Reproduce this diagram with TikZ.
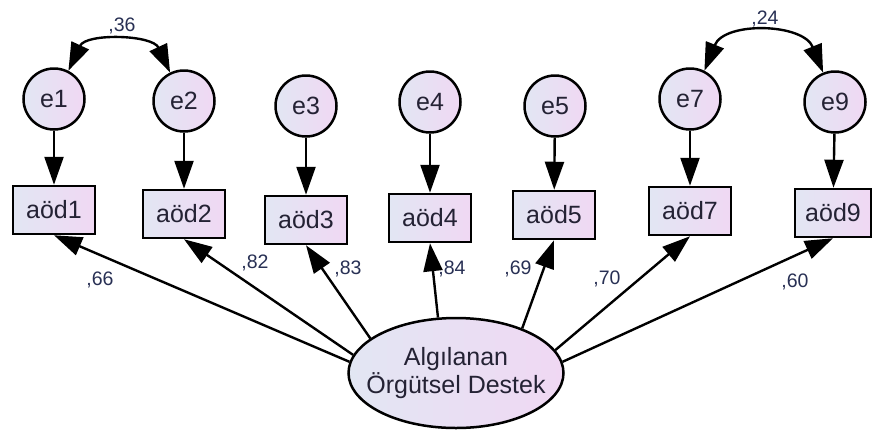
\documentclass[tikz,border=0pt]{standalone}
\usepackage{fontspec}
\setmainfont{Liberation Sans}
\usetikzlibrary{arrows.meta,shapes.geometric}
\definecolor{fillL}{RGB}{226,230,243}
\definecolor{fillR}{RGB}{240,216,243}
\definecolor{txt}{RGB}{36,34,52}
\definecolor{lbl}{RGB}{40,48,84}
\tikzset{
  base/.style={draw=black, line width=2.5pt, left color=fillL, right color=fillR,
    text=txt, font=\fontsize{25}{28}\selectfont, inner sep=0pt},
  errc/.style={base, circle, minimum size=61pt},
  obs/.style={base, rectangle, minimum width=82pt, minimum height=48pt},
  lat/.style={base, ellipse, minimum width=215pt, minimum height=110pt, align=center,
    inner xsep=-18pt},
  arr/.style={line width=2.4pt, -{Triangle[length=28pt,width=19pt]}},
  cov/.style={line width=2.4pt, {Triangle[length=28pt,width=19pt]}-{Triangle[length=28pt,width=19pt]}},
  coef/.style={text=lbl, font=\fontsize{19.5}{22}\selectfont, inner sep=0pt}
}
\begin{document}
\begin{tikzpicture}[x=1pt,y=-1pt]
\useasboundingbox (0,0) rectangle (872,432);

% error terms
\node[errc] (e1) at (54,99)  {e1};
\node[errc] (e2) at (184,101) {e2};
\node[errc] (e3) at (306,106) {e3};
\node[errc] (e4) at (430,102) {e4};
\node[errc] (e5) at (555,106) {e5};
\node[errc] (e7) at (690,99)  {e7};
\node[errc] (e9) at (835,102) {e9};

% observed items
\node[obs] (b1) at (54,210)  {aöd1};
\node[obs] (b2) at (184,214) {aöd2};
\node[obs] (b3) at (306,220) {aöd3};
\node[obs] (b4) at (430,218) {aöd4};
\node[obs] (b5) at (554,215) {aöd5};
\node[obs] (b7) at (690,211) {aöd7};
\node[obs, minimum width=76pt] (b9) at (833,213) {aöd9};

% latent factor
\node[lat] (f) at (456,373) {Algılanan\\Örgütsel Destek};

% error paths
\foreach \i in {1,2,3,4,5,7,9} \draw[arr] (e\i) -- (b\i);

% loadings
\draw[arr] (f.174)   -- (b1.south);
\draw[arr] (f.170)   -- (b2.south);
\draw[arr] (f.158.5) -- (b3.south);
\draw[arr] (f.108.7) -- (b4.south);
\draw[arr] (f.34.9)  -- (b5.south);
\draw[arr] (f.13.9)  -- (b7.south);
\draw[arr] (f.6.9)   -- (b9.south);

% covariances
\draw[cov] (e1.63) to[out=65,in=115,looseness=1.05] (e2.116);
\draw[cov] (e7.63) to[out=68,in=112,looseness=1.15] (e9.112);

% estimates
\node[coef] (c12) at (122,26)  {,36};
\node[coef] (c79) at (765,19)  {,24};
\node[coef] (l1)  at (100,280) {,66};
\node[coef] (l2)  at (255,263) {,82};
\node[coef] (l3)  at (348,269) {,83};
\node[coef] (l4)  at (452,269) {,84};
\node[coef] (l5)  at (518,269) {,69};
\node[coef] (l7)  at (607,279) {,70};
\node[coef] (l9)  at (795,282) {,60};
\end{tikzpicture}
\end{document}
